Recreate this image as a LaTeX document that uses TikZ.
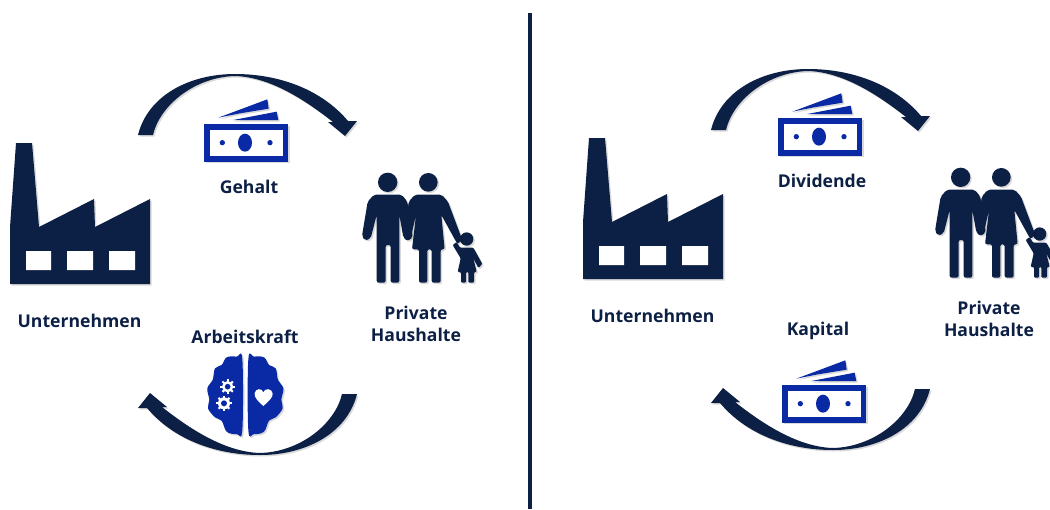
\documentclass[tikz,border=0pt]{standalone}
\usepackage{fontspec}
\setmainfont{Open Sans}
\usetikzlibrary{shadows}
\definecolor{darknavy}{HTML}{0C1F44}
\definecolor{billblue}{HTML}{0A2AA5}
\tikzset{
  softshadow/.style={drop shadow={shadow xshift=1.5pt,shadow yshift=-1.5pt,opacity=.15,fill=black}},
  navyshape/.style={fill=darknavy,softshadow},
  blueshape/.style={fill=billblue,softshadow},
  caption/.style={font=\fontsize{17.6}{22}\selectfont\bfseries,text=darknavy,align=center,inner sep=0pt},
  pics/factory/.style={code={
    \path[navyshape] (16,143) -- (32,143) -- (39,227) -- (94,199) -- (95,227) -- (150,199)
      -- (150,284) -- (10,284) -- (10,227) -- cycle;
    \fill[white] (26,251) rectangle (51,270) (67,251) rectangle (93,270) (109,251) rectangle (135,270);
  }},
  pics/family/.style={code={
    % man, woman, child
    \path[navyshape] (113,67) circle[radius=29];
    \path[navyshape] (235,67) circle[radius=28];
    \path[navyshape] (350,237) circle[radius=20];
    \path[navyshape,rounded corners=2pt] (72,104) -- (155,104) -- (172,125) -- (188,232) -- (172,244) -- (160,232) -- (148,165)
      -- (148,368) -- (122,368) -- (122,255) -- (107,255) -- (107,368) -- (80,368) -- (80,165) -- (62,235)
      -- (45,242) -- (36,228) -- (53,125) -- cycle;
    \path[navyshape,rounded corners=2pt] (195,104) -- (275,104) -- (294,125) -- (337,240) -- (322,252) -- (274,165) -- (284,268)
      -- (272,268) -- (272,368) -- (245,368) -- (245,268) -- (232,268) -- (232,368) -- (207,368) -- (207,268)
      -- (186,268) -- (198,165) -- (182,235) -- (165,228) -- (176,125) -- cycle;
    \path[navyshape,rounded corners=1pt] (330,263) -- (370,263) -- (397,312) -- (385,324) -- (370,295) -- (380,336) -- (372,336)
      -- (372,368) -- (355,368) -- (355,336) -- (348,336) -- (348,368) -- (333,368) -- (333,336) -- (323,336)
      -- (332,295) -- (308,255) -- (320,246) -- cycle;
  }},
  pics/money/.style={code={
    \path[blueshape] (222,163) rectangle (475,275);
    \fill[white] (240,180) rectangle (458,258);
    \fill[billblue] (345,218) ellipse[x radius=21,y radius=27];
    \fill[billblue] (277,218) circle[radius=8];
    \fill[billblue] (420,218) circle[radius=8];
    \path[blueshape] (265,143) -- (412,88) -- (416,116) -- (330,130) -- cycle;
    \path[blueshape] (310,150) -- (440,125) -- (445,150) -- cycle;
  }},
  pics/arcarrow/.style={code={
    \path[navyshape] (138,135) .. controls (148,95) and (190,74) .. (235,74)
      .. controls (280,74) and (322,90) .. (348,121) -- (357,121) -- (345,136) -- (328,122) -- (333,122)
      .. controls (305,100) and (270,77) .. (235,76) .. controls (195,77) and (160,105) .. (153,135) -- cycle;
  }},
  pics/brain/.style={code={
    \path[blueshape] plot[smooth cycle,tension=.6] coordinates {(337,118) (320,110) (290,112) (275,135) (255,145)
      (248,180) (232,205) (238,240) (234,265) (255,292) (275,302) (290,335) (320,342) (337,330)};
    \path[blueshape] plot[smooth cycle,tension=.6] coordinates {(355,118) (372,110) (402,112) (417,135) (437,145)
      (444,180) (460,205) (454,240) (458,265) (437,292) (417,302) (402,335) (372,342) (355,330)};
    \foreach \cx/\cy/\cr in {293/200/17,282/250/18}{
      \fill[white] (\cx,\cy) circle[radius=\cr];
      \foreach \ang in {0,45,...,315}
        \draw[white,line width=2pt] (\cx,\cy) ++(\ang:\cr-2) -- ++(\ang:7);
      \fill[billblue] (\cx,\cy) circle[radius=\cr/2];
    }
    \fill[white] (400,258) .. controls (385,245) and (372,232) .. (374,220) .. controls (376,205) and (396,203) .. (400,217)
      .. controls (404,203) and (426,205) .. (428,220) .. controls (430,232) and (415,245) .. (400,258) -- cycle;
  }}
}

\begin{document}
\begin{tikzpicture}[x=1pt,y=-1pt]
\useasboundingbox (0,0) rectangle (1050,509);
\fill[white] (0,0) rectangle (1050,509);
% left panel
\pic (fabrikL) at (0,0) {factory};
\pic (leuteL) [scale=1/3] at (350,160) {family};
\pic (oberL) at (0,0) {arcarrow};
\pic (unterL) [rotate=180] at (495,529) {arcarrow};
\pic (gehalt) [scale=1/3] at (130,70) {money};
\pic (kopf) [scale=1/3] at (130,320) {brain};
\node[caption] (unternehmenL) at (79.5,321) {Unternehmen};
\node[caption] (gehaltL) at (249,187) {Gehalt};
\node[caption] (haushalteL) at (416,324) {Private\\Haushalte};
\node[caption] (arbeitskraft) at (245,337) {Arbeitskraft};
% divider
\draw[darknavy,line width=4pt] (529.5,13) -- (529.5,509);
% right panel
\pic (fabrikR) at (573,-5) {factory};
\pic (leuteR) [scale=1/3] at (923,155) {family};
\pic (oberR) at (573,-5) {arcarrow};
\pic (unterR) [rotate=180] at (1068,524) {arcarrow};
\pic (dividendeG) [scale=1/3] at (704,64) {money};
\pic (kapitalG) [scale=1/3] at (708,331) {money};
\node[caption] (unternehmenR) at (652.5,316) {Unternehmen};
\node[caption] (dividende) at (822,181) {Dividende};
\node[caption] (haushalteR) at (989,319) {Private\\Haushalte};
\node[caption] (kapital) at (818,331) {Kapital};
\end{tikzpicture}
\end{document}
